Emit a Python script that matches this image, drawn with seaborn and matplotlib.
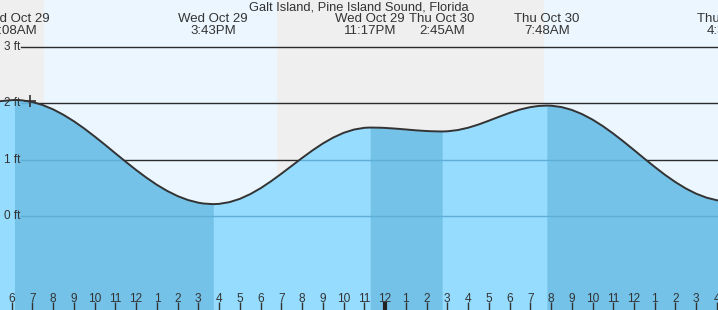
import numpy as np
import pandas as pd
import matplotlib
matplotlib.use("Agg")
import matplotlib.pyplot as plt
import seaborn as sns

# ---------------- data ----------------
hours = [5, 5.5, 6.133, 6.5, 7, 7.5, 8, 8.5, 9, 9.5, 10, 10.5, 11, 11.5, 12, 12.5, 13,
         13.5, 14, 14.5, 15, 15.25, 15.717, 16, 16.5, 17, 17.5, 18, 18.5, 19, 19.5, 20,
         20.5, 21, 21.5, 22, 22.5, 23, 23.283, 23.75, 24, 24.5, 25, 25.5, 26, 26.25,
         26.75, 27, 27.5, 28, 28.5, 29, 29.5, 30, 30.5, 31, 31.4, 31.8, 32, 32.5, 33,
         33.5, 34, 34.5, 35, 35.5, 36, 36.5, 37, 37.5, 38, 38.5, 39, 39.5, 40, 40.6, 41]
levels = [2.02, 2.04, 2.06, 2.053, 2.023, 1.969, 1.892, 1.795, 1.681, 1.552, 1.411,
          1.264, 1.112, 0.962, 0.816, 0.679, 0.553, 0.444, 0.353, 0.283, 0.236, 0.221,
          0.21, 0.215, 0.246, 0.304, 0.388, 0.493, 0.616, 0.750, 0.89, 1.030, 1.164,
          1.287, 1.392, 1.476, 1.534, 1.565, 1.57, 1.567, 1.563, 1.551, 1.536, 1.520,
          1.508, 1.504, 1.50, 1.503, 1.525, 1.566, 1.623, 1.691, 1.762, 1.830, 1.889,
          1.932, 1.953, 1.96, 1.958, 1.934, 1.883, 1.808, 1.711, 1.595, 1.463, 1.320,
          1.171, 1.019, 0.871, 0.729, 0.601, 0.488, 0.395, 0.325, 0.279, 0.26, 0.265]

extreme_hours = [6.133, 15.717, 23.283, 26.75, 31.8, 40.6]
extreme_dates = ["Wed Oct 29", "Wed Oct 29", "Wed Oct 29", "Thu Oct 30", "Thu Oct 30", "Thu Oct 30"]
extreme_times = ["6:08AM", "3:43PM", "11:17PM", "2:45AM", "7:48AM", "4:36PM"]
falling_ranges = [(6.133, 15.717), (23.283, 26.75), (31.8, 41)]

night_ranges = [(5.0, 7.55), (18.8, 31.65)]
day_ranges = [(7.55, 18.8), (31.65, 41)]

tick_hours = list(range(6, 41))
tick_labels = [str((h - 1) % 12 + 1) for h in tick_hours]
midnight = [24]

ft_levels = [3, 2, 1, 0]
ft_labels = ["3 ft", "2 ft", "1 ft", "0 ft"]

now_hour = [6.88]
now_level = [2.045]

title = "Galt Island, Pine Island Sound, Florida"

# ---------------- figure ----------------
W, H = 718, 310
fig = plt.figure(figsize=(W / 100, H / 100), dpi=100)
ax = fig.add_axes([0, 0, 1, 1])
XMIN, XMAX = 5.436, 40.05
YMIN, YMAX = -1.669, 3.834
ax.set_xlim(XMIN, XMAX)
ax.set_ylim(YMIN, YMAX)
ax.set_axisbelow(False)
for s in ax.spines.values():
    s.set_visible(False)

FONT = "Liberation Sans"
TXT = "#333333"

for a, b in night_ranges:
    ax.axvspan(a, b, color="#efefef", lw=0, zorder=0)
for a, b in day_ranges:
    ax.axvspan(a, b, color="#ebf6fe", lw=0, zorder=0)

xstart = 21 / W
for lv in ft_levels:
    ax.axhline(lv, xmin=xstart, xmax=1, color="#2b2b2b", lw=1.0, zorder=1)

df = pd.DataFrame({"hour": hours, "level": levels})
hx = np.array(hours)
hy = np.array(levels)

base = ax.fill_between(hx, hy, YMIN, color="#96dcfe", lw=0, zorder=2)
for a, b in falling_ranges:
    m = (hx >= a) & (hx <= b)
    ax.fill_between(hx[m], hy[m], YMIN, color="#74c2e8", lw=0, zorder=2.1)

clip_path = base.get_paths()[0]
for lv in ft_levels:
    ln = ax.axhline(lv, xmin=xstart, xmax=1, color="#5eaed8", lw=1.0, zorder=2.2)
    ln.set_clip_path(clip_path, ax.transData)

sns.lineplot(data=df, x="hour", y="level", ax=ax, color="#333333", lw=1.4,
             sort=False, zorder=4, legend=False)
ax.set_xlabel("")
ax.set_ylabel("")

ax.plot(now_hour, now_level, marker="+", ms=9, mew=1.2, color="#333333", ls="none", zorder=5)

# y labels
trans_y = matplotlib.transforms.blended_transform_factory(ax.transAxes, ax.transData)
for lv, lab in zip(ft_levels, ft_labels):
    ax.text(20.5 / W, lv, lab, transform=trans_y, ha="right", va="center",
            fontsize=8.5, color=TXT, family=FONT, zorder=6)

# x ticks
ax.set_xticks(tick_hours)
ax.set_xticklabels(tick_labels, family=FONT, fontsize=8.6, color=TXT)
ax.tick_params(axis="x", direction="in", length=5.8, width=1, color=TXT, pad=-12.6)
ax.set_yticks([])
trans_x = matplotlib.transforms.blended_transform_factory(ax.transData, ax.transAxes)
for m in midnight:
    ax.plot([m, m], [0, 8 / H], transform=trans_x, color="#222222", lw=3,
            solid_capstyle="butt", zorder=6)

# top labels
ax.text(0.5, 1 - 7.5 / H, title, transform=ax.transAxes, ha="center", va="center",
        fontsize=9.3, color=TXT, family=FONT)
for eh, ed, et in zip(extreme_hours, extreme_dates, extreme_times):
    ax.text(eh, 1 - 19.5 / H, ed, transform=trans_x, ha="center", va="center",
            fontsize=9.5, color=TXT, family=FONT)
    ax.text(eh, 1 - 31.5 / H, et, transform=trans_x, ha="center", va="center",
            fontsize=9.5, color=TXT, family=FONT)

fig.savefig("out.png", dpi=100)
